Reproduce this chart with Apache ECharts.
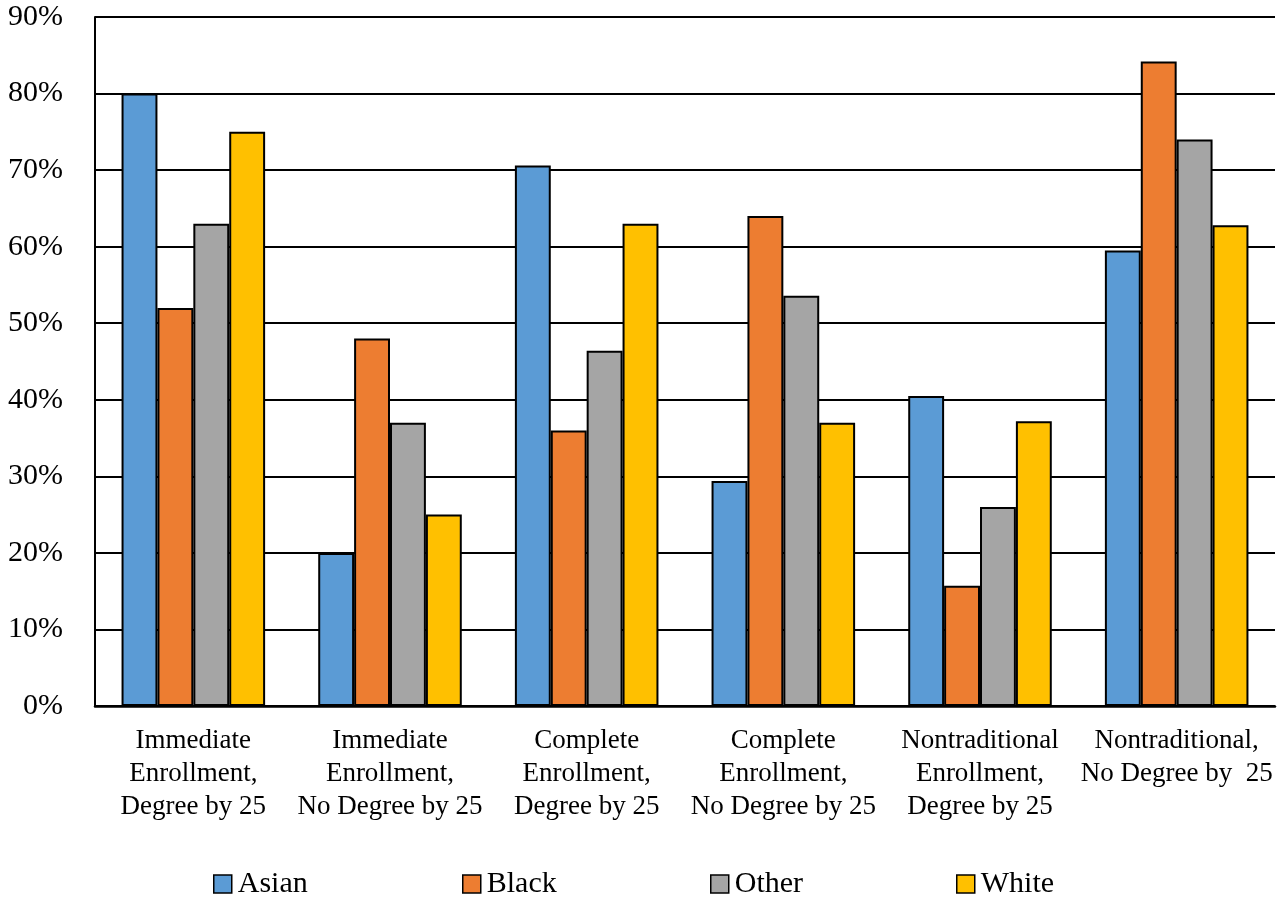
<!DOCTYPE html>
<html>
<head>
<meta charset="utf-8">
<script src="https://cdn.jsdelivr.net/npm/echarts@6/dist/echarts.min.js"></script>
<style>
  html, body { margin: 0; padding: 0; background: #fff; }
  #chart { width: 1284px; height: 898px; }
</style>
</head>
<body>
<div id="chart"></div>
<script>
const categories = [
  "Immediate\nEnrollment,\nDegree by 25",
  "Immediate\nEnrollment,\nNo Degree by 25",
  "Complete\nEnrollment,\nDegree by 25",
  "Complete\nEnrollment,\nNo Degree by 25",
  "Nontraditional\nEnrollment,\nDegree by 25",
  "Nontraditional,\nNo Degree by  25"
];
const seriesNames = ['Asian', 'Black', 'Other', 'White'];
const asian = [80, 20, 70.6, 29.4, 40.5, 59.5];
const black = [52, 48, 36, 64, 15.7, 84.2];
const other = [63, 37, 46.4, 53.6, 26, 74];
const white = [75, 25, 63, 37, 37.2, 62.8];
const yTicks = { min: 0, max: 90, interval: 10 };

const FONT = 'Liberation Serif';
const colors = ['#5B9BD5', '#ED7D31', '#A5A5A5', '#FFC000'];
const legendLefts = [213, 462, 710, 956];

const chart = echarts.init(document.getElementById('chart'), null, { renderer: 'canvas' });

function bar(name, data, color) {
  return {
    name: name,
    type: 'bar',
    data: data,
    barGap: '0%',
    barCategoryGap: '27%',
    itemStyle: { color: color, borderColor: '#000', borderWidth: 2 }
  };
}

const legends = seriesNames.map((n, i) => ({
  left: legendLefts[i],
  top: 869,
  padding: 0,
  itemWidth: 18,
  itemHeight: 18,
  icon: 'rect',
  itemStyle: { borderColor: '#000', borderWidth: 1.5 },
  textStyle: { fontFamily: FONT, fontSize: 30, lineHeight: 30, color: '#000', padding: [0, 0, 0, 1] },
  data: [n]
}));

chart.setOption({
  animation: false,
  backgroundColor: '#fff',
  color: colors,
  textStyle: { fontFamily: FONT, color: '#000' },
  grid: { left: 95, right: 9, top: 17, bottom: 192, containLabel: false },
  legend: legends,
  xAxis: {
    type: 'category',
    data: categories,
    axisLine: { show: true, lineStyle: { color: '#000', width: 2.5 } },
    axisTick: { show: false },
    axisLabel: {
      interval: 0,
      margin: 18,
      fontFamily: FONT,
      fontSize: 27,
      lineHeight: 33,
      color: '#000',
      align: 'center'
    }
  },
  yAxis: {
    type: 'value',
    min: yTicks.min,
    max: yTicks.max,
    interval: yTicks.interval,
    axisLine: { show: true, lineStyle: { color: '#000', width: 2 } },
    axisTick: { show: false },
    splitLine: { show: true, lineStyle: { color: '#000', width: 2 } },
    axisLabel: {
      formatter: '{value}%',
      margin: 32,
      fontFamily: FONT,
      fontSize: 30,
      color: '#000'
    }
  },
  series: [
    bar(seriesNames[0], asian, colors[0]),
    bar(seriesNames[1], black, colors[1]),
    bar(seriesNames[2], other, colors[2]),
    bar(seriesNames[3], white, colors[3])
  ]
});
</script>
</body>
</html>
